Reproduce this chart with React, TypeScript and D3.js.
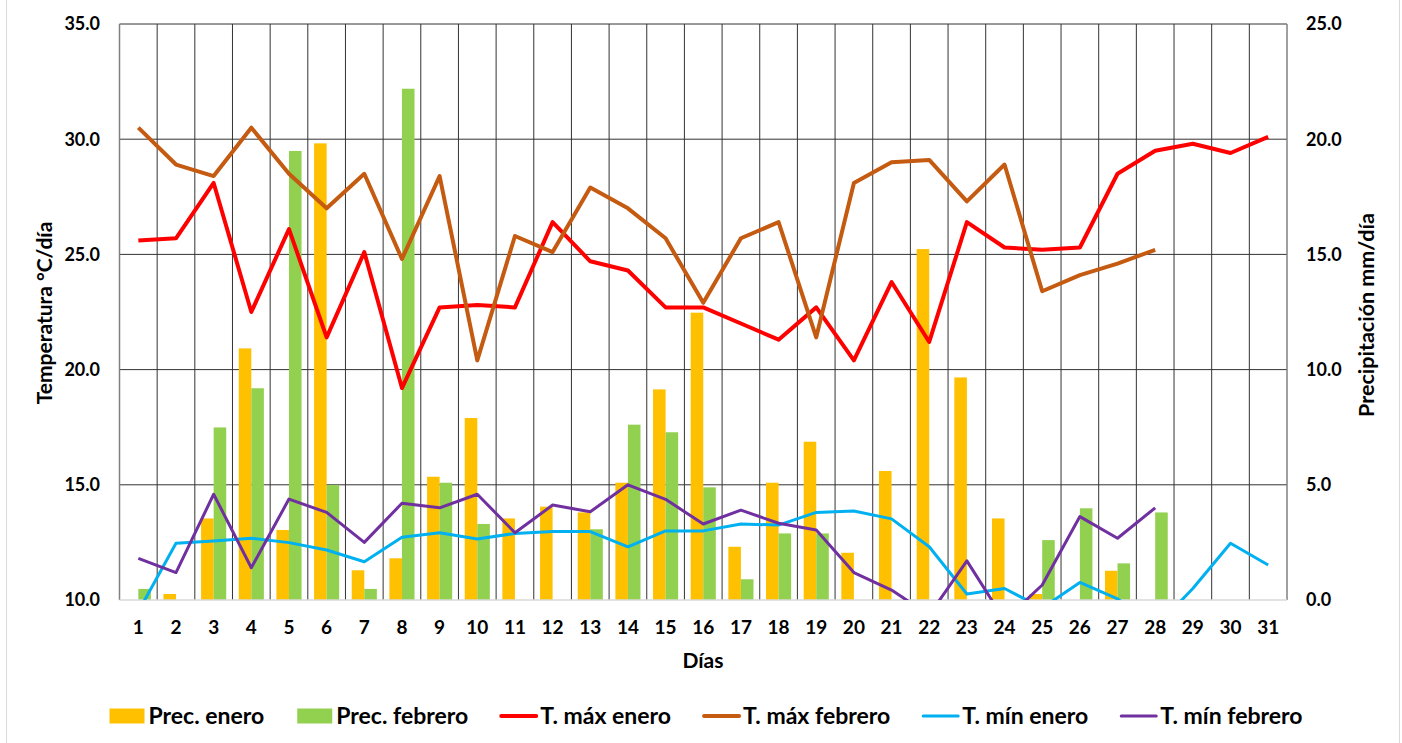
import React, { useEffect, useRef } from "react";
import * as d3 from "d3";

// Días del mes
const days = [1, 2, 3, 4, 5, 6, 7, 8, 9, 10, 11, 12, 13, 14, 15, 16, 17, 18, 19, 20, 21, 22, 23, 24, 25, 26, 27, 28, 29, 30, 31];

// Precipitación (mm/día)
const precEnero = [0, 0.26, 3.54, 10.92, 3.04, 19.82, 1.29, 1.81, 5.35, 7.9, 3.54, 4.05, 3.8, 5.09, 9.14, 12.47, 2.31, 5.09, 6.87, 2.05, 5.6, 15.23, 9.66, 3.54, 0.26, 0, 1.27, 0, 0, 0, 0];
const precFebrero = [0.48, 0, 7.49, 9.19, 19.49, 4.99, 0.48, 22.19, 5.09, 3.3, 0, 0, 3.07, 7.61, 7.28, 4.89, 0.9, 2.89, 2.89, 0, 0, 0, 0, 0, 2.6, 3.98, 1.59, 3.8];

// Temperaturas (°C)
const tMaxEnero = [25.6, 25.7, 28.1, 22.5, 26.1, 21.4, 25.1, 19.2, 22.7, 22.8, 22.7, 26.4, 24.7, 24.3, 22.7, 22.7, 22.0, 21.3, 22.7, 20.4, 23.8, 21.2, 26.4, 25.3, 25.2, 25.3, 28.5, 29.5, 29.8, 29.4, 30.1];
const tMaxFebrero = [30.5, 28.9, 28.4, 30.5, 28.5, 27.0, 28.5, 24.8, 28.4, 20.4, 25.8, 25.1, 27.9, 27.0, 25.7, 22.9, 25.7, 26.4, 21.4, 28.1, 29.0, 29.1, 27.3, 28.9, 23.4, 24.1, 24.6, 25.2];
const tMinEnero = [9.5, 12.46, 12.56, 12.68, 12.49, 12.17, 11.66, 12.72, 12.92, 12.65, 12.89, 12.97, 12.97, 12.31, 13.0, 13.0, 13.3, 13.25, 13.8, 13.86, 13.52, 12.31, 10.26, 10.5, 9.65, 10.76, 10.05, 8.8, 10.5, 12.46, 11.52];
const tMinFebrero = [11.81, 11.19, 14.59, 11.4, 14.38, 13.8, 12.5, 14.2, 14.0, 14.59, 12.92, 14.12, 13.83, 15.0, 14.37, 13.3, 13.9, 13.33, 13.04, 11.19, 10.43, 9.35, 11.7, 9.12, 10.65, 13.62, 12.68, 14.0];

const tempTicks = [10, 15, 20, 25, 30, 35];
const precTicks = [0, 5, 10, 15, 20, 25];

const barSeries = [
  { name: "Prec. enero", values: precEnero, color: "#FFC000" },
  { name: "Prec. febrero", values: precFebrero, color: "#92D050" },
];
const lineSeries = [
  { name: "T. máx enero", values: tMaxEnero, color: "#FF0000", width: 4 },
  { name: "T. máx febrero", values: tMaxFebrero, color: "#C55A11", width: 4 },
  { name: "T. mín enero", values: tMinEnero, color: "#00B0F0", width: 3 },
  { name: "T. mín febrero", values: tMinFebrero, color: "#7030A0", width: 3 },
];

const FONT = "Lato, 'Liberation Sans', sans-serif";

const App = () => {
  const svgRef = useRef<SVGSVGElement>(null);

  useEffect(() => {
    const width = 1402;
    const height = 743;
    const plot = { left: 119.5, right: 1287, top: 24, bottom: 600 };

    const svg = d3.select(svgRef.current);
    svg.selectAll("*").remove();
    svg.attr("width", width).attr("height", height);

    // marco del gráfico
    svg.append("rect")
      .attr("x", 6.5).attr("y", -20)
      .attr("width", 1393).attr("height", height + 40)
      .attr("fill", "#fff")
      .attr("stroke", "#d9d9d9");

    const x = d3.scaleBand<number>()
      .domain(days)
      .range([plot.left, plot.right])
      .padding(0);
    const bw = x.bandwidth();
    const cx = (d: number) => (x(d) as number) + bw / 2;

    const yT = d3.scaleLinear().domain([10, 35]).range([plot.bottom, plot.top]);
    const yP = d3.scaleLinear().domain([0, 25]).range([plot.bottom, plot.top]);

    // rejilla horizontal
    svg.append("g")
      .selectAll("line")
      .data(tempTicks.slice(1))
      .join("line")
      .attr("x1", plot.left).attr("x2", plot.right)
      .attr("y1", d => yT(d)).attr("y2", d => yT(d))
      .attr("stroke", "#333").attr("stroke-width", 1);

    // rejilla vertical
    svg.append("g")
      .selectAll("line")
      .data(days.slice(1))
      .join("line")
      .attr("x1", d => x(d) as number).attr("x2", d => x(d) as number)
      .attr("y1", plot.top).attr("y2", plot.bottom)
      .attr("stroke", "#333").attr("stroke-width", 1);

    // borde del área de trazado
    svg.append("line")
      .attr("x1", plot.left).attr("x2", plot.left)
      .attr("y1", plot.top).attr("y2", plot.bottom)
      .attr("stroke", "#808080").attr("stroke-width", 1.5);
    svg.append("line")
      .attr("x1", plot.right).attr("x2", plot.right)
      .attr("y1", plot.top).attr("y2", plot.bottom)
      .attr("stroke", "#808080").attr("stroke-width", 1.5);

    // barras
    const barW = bw / 3;
    barSeries.forEach((s, i) => {
      svg.append("g")
        .selectAll("rect")
        .data(s.values.map((v, j) => ({ day: days[j], v })).filter(d => d.v > 0))
        .join("rect")
        .attr("x", d => (x(d.day) as number) + bw / 6 + i * barW)
        .attr("y", d => yP(d.v))
        .attr("width", barW)
        .attr("height", d => yP(0) - yP(d.v))
        .attr("fill", s.color);
    });

    // eje inferior
    svg.append("line")
      .attr("x1", plot.left).attr("x2", plot.right)
      .attr("y1", plot.bottom).attr("y2", plot.bottom)
      .attr("stroke", "#d9d9d9").attr("stroke-width", 1.5);

    // líneas recortadas al área de trazado
    svg.append("clipPath").attr("id", "plot-clip")
      .append("rect")
      .attr("x", plot.left).attr("y", plot.top)
      .attr("width", plot.right - plot.left).attr("height", plot.bottom - plot.top);

    const lineGroup = svg.append("g").attr("clip-path", "url(#plot-clip)");
    lineSeries.forEach(s => {
      const line = d3.line<number>()
        .x((_, j) => cx(days[j]))
        .y(v => yT(v));
      lineGroup.append("path")
        .datum(s.values)
        .attr("fill", "none")
        .attr("stroke", s.color)
        .attr("stroke-width", s.width)
        .attr("stroke-linejoin", "round")
        .attr("d", line);
    });

    const text = (g: any) => g
      .attr("font-family", FONT)
      .attr("font-weight", "bold")
      .attr("fill", "#000");

    // etiquetas eje izquierdo
    svg.append("g").call(text)
      .selectAll("text")
      .data(tempTicks)
      .join("text")
      .attr("x", 100).attr("y", d => yT(d))
      .attr("dy", "0.35em")
      .attr("text-anchor", "end")
      .attr("font-size", 18)
      .text(d => d3.format(".1f")(d));

    // etiquetas eje derecho
    svg.append("g").call(text)
      .selectAll("text")
      .data(precTicks)
      .join("text")
      .attr("x", 1306).attr("y", d => yP(d))
      .attr("dy", "0.35em")
      .attr("text-anchor", "start")
      .attr("font-size", 18)
      .text(d => d3.format(".1f")(d));

    // etiquetas de días
    svg.append("g").call(text)
      .selectAll("text")
      .data(days)
      .join("text")
      .attr("x", d => cx(d)).attr("y", 627)
      .attr("dy", "0.35em")
      .attr("text-anchor", "middle")
      .attr("font-size", 19)
      .text(d => d);

    // títulos de ejes
    svg.append("text").call(text)
      .attr("x", 703).attr("y", 661)
      .attr("dy", "0.35em")
      .attr("text-anchor", "middle")
      .attr("font-size", 21)
      .text("Días");

    svg.append("text").call(text)
      .attr("transform", "translate(45,313) rotate(-90)")
      .attr("dy", "0.35em")
      .attr("text-anchor", "middle")
      .attr("font-size", 21)
      .text("Temperatura °C/día");

    svg.append("text").call(text)
      .attr("transform", "translate(1366,315) rotate(-90)")
      .attr("dy", "0.35em")
      .attr("text-anchor", "middle")
      .attr("font-size", 21.5)
      .text("Precipitación mm/día");

    // leyenda
    const legendItems = [
      ...barSeries.map(s => ({ name: s.name, color: s.color, kind: "bar", width: 0 })),
      ...lineSeries.map(s => ({ name: s.name, color: s.color, kind: "line", width: s.width })),
    ];
    const legend = svg.append("g");
    const swW = 35;
    const gap = 33;
    const items = legendItems.map(it => {
      const g = legend.append("g");
      if (it.kind === "bar") {
        g.append("rect")
          .attr("x", 0).attr("y", -7.5)
          .attr("width", swW).attr("height", 15)
          .attr("fill", it.color);
      } else {
        g.append("line")
          .attr("x1", 0).attr("x2", swW)
          .attr("y1", 0).attr("y2", 0)
          .attr("stroke", it.color)
          .attr("stroke-width", it.width)
          .attr("stroke-linecap", "round");
      }
      const t = g.append("text").call(text)
        .attr("x", swW + 4).attr("y", 0)
        .attr("dy", "0.35em")
        .attr("font-size", 23)
        .text(it.name);
      const w = swW + 4 + (t.node() as SVGTextElement).getComputedTextLength();
      return { g, w };
    });
    const total = d3.sum(items, d => d.w) + gap * (items.length - 1);
    let lx = 706 - total / 2;
    items.forEach(it => {
      it.g.attr("transform", `translate(${lx},716)`);
      lx += it.w + gap;
    });
  }, []);

  return (
    <svg
      ref={svgRef}
      style={{ position: "absolute", left: 0, top: 0, display: "block" }}
    />
  );
};

export default App;
